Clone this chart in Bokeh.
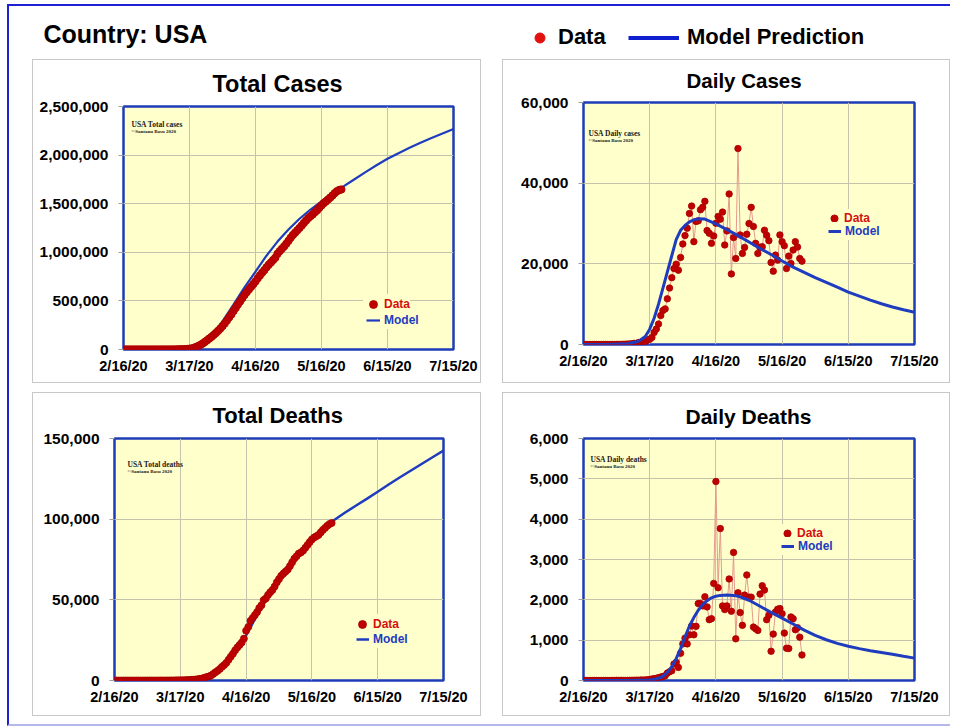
from bokeh.plotting import figure
from bokeh.models import (Range1d, FixedTicker, NumeralTickFormatter, Legend,
                          LegendItem, Label)
from bokeh.layouts import column, row
from bokeh.embed import file_html
from bokeh.resources import INLINE

# ---------------- data ----------------
# x axis: days after 2/16/20
x_tick_days = [0, 30, 60, 90, 120, 150]
x_tick_labels = ["2/16/20", "3/17/20", "4/16/20", "5/16/20", "6/15/20", "7/15/20"]
days = list(range(100))

daily_cases = [0, 0, 0, 0, 1, 0, 0, 0, 1, 0, 2, 0, 3, 5, 8, 20, 24, 30, 50, 70,
               100, 120, 190, 290, 270, 480, 550, 640, 760, 1100, 1300,
               1750, 3000, 3830, 5080, 7170, 8420, 8830, 11330, 14000, 16580,
               18830, 19920, 18420, 21580, 24920, 27000, 28830, 32500, 34330, 25500,
               30500, 30670, 33420, 34000, 35500, 28250, 27580, 25080, 26920, 30080,
               31750, 31080, 32830, 24670, 28170, 37330, 17500, 26500, 21330, 48580,
               27170, 22580, 24080, 27330, 30000, 34000, 29250, 25080, 22580, 24080,
               24250, 28330, 27080, 25750, 20330, 18170, 22170, 20920, 27170, 25500,
               24500, 18830, 21920, 20080, 23420, 25500, 24170, 21330, 20670]

total_cases = [15, 15, 15, 15, 16, 16, 16, 16, 17, 17, 19, 19, 22, 27, 35, 55, 79, 109,
               159, 229, 329, 449, 639, 929, 1199, 1679, 2229, 2869, 3629, 4729,
               8000, 11000, 18000, 26000, 36000, 48000, 62000, 78000, 95000, 113000,
               130000, 150000, 170000, 192000, 215000, 240000, 268000, 298000, 330000,
               360000, 395000, 428000, 462000, 495000, 528000, 560000, 590000, 618000,
               645000, 672000, 700000, 732000, 762000, 790000, 816000, 845000, 872000,
               896000, 920000, 944000, 985000, 1012000, 1036000, 1060000, 1088000,
               1118000, 1150000, 1178000, 1202000, 1226000, 1250000, 1275000, 1302000,
               1328000, 1352000, 1372000, 1390000, 1412000, 1432000, 1458000, 1482000,
               1505000, 1523000, 1544000, 1563000, 1585000, 1608000, 1628000, 1640000,
               1646000]

daily_deaths = [0, 0, 0, 0, 0, 0, 0, 0, 0, 0, 0, 0, 0,
                1, 1, 4, 1, 4, 1, 2, 3, 4, 4, 6, 8, 7, 11, 10, 12, 18, 23, 36, 45, 55,
                70, 85, 100,
                117, 183, 217, 242, 408, 450, 325, 675, 908, 1050,
                908, 1133, 1350, 1133, 1342, 1908, 1908, 1850, 2075, 1825,
                1508, 1533, 2408, 4933, 2300, 3767, 1850, 1758, 1850, 2517,
                1717, 3175, 1033, 2175, 1683, 1367, 2117, 2617, 2067, 2067,
                1325, 1283, 1242, 2142, 2350, 2242, 1508, 1617, 725, 1150,
                1700, 1767, 1783, 1658, 1175, 800, 792, 1575, 1533, 1258,
                1308, 1075, 633]

total_deaths = [0, 0, 0, 0, 0, 0, 0, 0, 0, 0, 0, 0, 0,
                1, 2, 6, 7, 11, 12, 14, 17, 21, 25, 31, 39, 46, 57, 67, 79, 97, 120,
                156, 201, 256, 326, 411, 511,
                628, 811, 1028, 1270, 1678, 2128, 2453, 3128, 4036, 5086,
                5994, 7127, 8477, 9610, 10952, 12860, 14768, 16618, 18693, 20518,
                22026, 23559, 25967, 30900, 33200, 36967, 38817, 40575, 42425, 44942,
                46659, 49834, 50867, 53042, 54725, 56092, 58209, 60826, 62893, 64960,
                66285, 67568, 68810, 70952, 73302, 75544, 77052, 78669, 79394, 80544,
                82244, 84011, 85794, 87452, 88627, 89427, 90219, 91794, 93327, 94585,
                95893, 96968, 97601]

model_tc_days = [0, 5, 10, 15, 20, 25, 30, 35, 40, 45, 50, 55, 60, 65, 70, 75, 80,
                 85, 90, 95, 100, 105, 110, 115, 120, 125, 130, 135, 140, 145, 150]
model_tc = [0, 0, 0, 0, 200, 1500, 6000, 35000, 140000, 290000, 462000, 640000,
            800000, 965000, 1110000, 1235000, 1345000, 1440000, 1525000, 1603000,
            1678000, 1752000, 1825000, 1895000, 1962000, 2020000, 2075000, 2127000,
            2176000, 2223000, 2268000]

model_dc_days = [0, 10, 20, 25, 28, 30, 32, 34, 36, 38, 40, 42, 44, 46, 48, 50, 52,
                 55, 60, 65, 70, 75, 80, 85, 90, 95, 100, 105, 110, 115, 120, 125,
                 130, 135, 140, 145, 150]
model_dc = [0, 0, 200, 800, 2000, 3800, 6500, 10000, 14000, 18000, 22000, 26000,
            28300, 29500, 30400, 30900, 31150, 31100, 29900, 28500, 27000, 25400,
            23800, 22300, 20700, 19200, 17900, 16600, 15400, 14200, 13000, 12000,
            11000, 10100, 9300, 8600, 8000]

model_td_days = [0, 30, 35, 40, 45, 50, 55, 60, 65, 70, 75, 80, 85, 90, 95, 100, 105,
                 110, 115, 120, 125, 130, 135, 140, 145, 150]
model_td = [0, 0, 150, 800, 3200, 8500, 17000, 28000, 40500, 52500, 63000, 72500,
            81000, 88000, 94000, 99300, 104000, 108300, 112600, 117000, 121500,
            125800, 130000, 134200, 138400, 142500]

model_dd_days = [0, 20, 30, 33, 36, 38, 40, 42, 44, 46, 48, 50, 52, 54, 56, 58, 60,
                 62, 65, 68, 70, 75, 80, 85, 90, 95, 100, 105, 110, 115, 120, 125,
                 130, 135, 140, 145, 150]
model_dd = [0, 0, 10, 40, 100, 200, 340, 540, 790, 1080, 1350, 1560, 1740, 1880, 1980,
            2050, 2090, 2110, 2120, 2110, 2090, 1990, 1840, 1690, 1545, 1400, 1250,
            1120, 1010, 920, 850, 790, 740, 695, 650, 600, 555]

tc_ticks = [0, 500000, 1000000, 1500000, 2000000, 2500000]
dc_ticks = [0, 20000, 40000, 60000]
td_ticks = [0, 50000, 100000, 150000]
dd_ticks = [0, 1000, 2000, 3000, 4000, 5000, 6000]

# ---------------- style ----------------
YELLOW = "#ffffcc"
FRAME_BLUE = "#1f3cb8"
MODEL_BLUE = "#1f3cbf"
DOT_RED = "#c00000"
LEG_RED = "#d41010"
GRID = "#c4c4ac"
SANS = "Liberation Sans"
SERIF = "Liberation Serif"


def make_panel(title, title_size, standoff, offset, fl, fw, fr, ft, fh, fb,
               y_max, y_ticks):
    p = figure(frame_width=fw, frame_height=fh,
               min_border_left=fl, min_border_right=fr,
               min_border_top=ft, min_border_bottom=fb,
               x_range=Range1d(0, 150), y_range=Range1d(0, y_max),
               output_backend="svg", toolbar_location=None, title=title)
    p.styles = {"border": "1px solid #c8c8c8"}
    p.background_fill_color = YELLOW
    p.border_fill_color = "white"
    p.outline_line_color = FRAME_BLUE
    p.outline_line_width = 2.5
    p.title.align = "left"
    p.title.offset = offset
    p.title.vertical_align = "top"
    p.title.text_font = SANS
    p.title.text_font_style = "bold"
    p.title.text_font_size = title_size
    p.title.text_color = "black"
    p.title.standoff = standoff
    p.xaxis.ticker = FixedTicker(ticks=x_tick_days)
    p.xaxis.major_label_overrides = dict(zip(x_tick_days, x_tick_labels))
    p.yaxis.ticker = FixedTicker(ticks=y_ticks)
    p.yaxis.formatter = NumeralTickFormatter(format="0,0")
    for ax in (p.xaxis, p.yaxis):
        ax.axis_line_color = None
        ax.minor_tick_line_color = None
        ax.major_label_text_font = SANS
        ax.major_label_text_font_style = "bold"
        ax.major_label_text_color = "black"
    p.xaxis.major_label_text_font_size = "14.5px"
    p.yaxis.major_label_text_font_size = "15.5px"
    p.xaxis.major_tick_line_color = None
    p.xaxis.major_tick_out = 0
    p.xaxis.major_label_standoff = 8
    p.yaxis.major_tick_line_color = "#a0a0a0"
    p.yaxis.major_tick_out = 5
    p.yaxis.major_tick_in = 0
    p.yaxis.major_label_standoff = 10
    p.grid.grid_line_color = GRID
    p.grid.grid_line_width = 1
    return p


def add_notes(p, text, x, y):
    p.add_layout(Label(x=x, y=y, x_units="screen", y_units="screen", text=text,
                       text_font=SERIF, text_font_style="bold", text_font_size="7.5px",
                       text_baseline="middle", text_color="#202020"))
    p.add_layout(Label(x=x, y=y - 6.5, x_units="screen", y_units="screen",
                       text="\u00a9Santanu  Basu 2020", text_font=SERIF,
                       text_font_style="bold", text_font_size="5px",
                       text_baseline="middle", text_color="#202020"))


def add_legends(p, r_data, r_model, dloc, mloc, dglyph, mwidth):
    common = dict(padding=0, margin=0, spacing=0, border_line_color=None,
                  background_fill_color=YELLOW, background_fill_alpha=1.0,
                  label_text_font=SANS, label_text_font_style="bold",
                  label_text_font_size="12px", label_height=18)
    l1 = Legend(items=[LegendItem(label="Data", renderers=[r_data])], location=dloc,
                glyph_width=dglyph, glyph_height=dglyph, label_standoff=1,
                label_text_color=LEG_RED, **common)
    l2 = Legend(items=[LegendItem(label="Model", renderers=[r_model])], location=mloc,
                glyph_width=mwidth, glyph_height=18, label_standoff=4,
                label_text_color=MODEL_BLUE, **common)
    p.add_layout(l1)
    p.add_layout(l2)


# ---- Total cases ----
p_tc = make_panel("Total Cases", "23.5px", 15, 89, 90, 328, 29, 46, 241, 35,
                  2500000, tc_ticks)
m_tc = p_tc.line(model_tc_days, model_tc, line_color=MODEL_BLUE, line_width=2.2)
d_tc = p_tc.scatter(days, total_cases, size=7.5, marker="circle",
                    fill_color=DOT_RED, line_color="#a80000", line_width=0.8)
add_notes(p_tc, "USA Total cases", 8, 225)
add_legends(p_tc, d_tc, m_tc, (240, 35), (243, 20), 20, 14)

# ---- Daily cases ----
p_dc = make_panel("Daily Cases", "20.5px", 16.5, 103, 80, 329, 37, 42, 240, 40,
                  60000, dc_ticks)
p_dc.line(days, daily_cases, line_color="#e49a8c", line_width=1)
d_dc = p_dc.scatter(days, daily_cases, size=6.5, marker="circle",
                    fill_color=DOT_RED, line_color="#a80000", line_width=0.8)
m_dc = p_dc.line(model_dc_days, model_dc, line_color=MODEL_BLUE, line_width=3)
add_notes(p_dc, "USA Daily cases", 5, 211)
add_legends(p_dc, d_dc, m_dc, (242, 117), (245, 104), 18, 13)

# ---- Total deaths ----
p_td = make_panel("Total Deaths", "22px", 18, 98, 81, 327, 39, 45, 240, 37,
                  150000, td_ticks)
m_td = p_td.line(model_td_days, model_td, line_color=MODEL_BLUE, line_width=2.5)
d_td = p_td.scatter(days, total_deaths, size=7, marker="circle",
                    fill_color=DOT_RED, line_color="#a80000", line_width=0.8)
add_notes(p_td, "USA Total deaths", 13, 216)
add_legends(p_td, d_td, m_td, (238, 46), (242, 32), 20, 13)

# ---- Daily deaths ----
p_dd = make_panel("Daily Deaths", "21px", 16.5, 102, 80, 329, 37, 45, 240, 37,
                  6000, dd_ticks)
p_dd.line(days, daily_deaths, line_color="#e49a8c", line_width=1)
d_dd = p_dd.scatter(days, daily_deaths, size=6.5, marker="circle",
                    fill_color=DOT_RED, line_color="#a80000", line_width=0.8)
m_dd = p_dd.line(model_dd_days, model_dd, line_color=MODEL_BLUE, line_width=3)
add_notes(p_dd, "USA Daily deaths", 7, 221)
add_legends(p_dd, d_dd, m_dd, (195, 138), (198, 125), 18, 13)

# ---- Header ----
header = figure(width=941, height=53, x_range=Range1d(0, 1), y_range=Range1d(0, 1),
                min_border=0, toolbar_location=None, output_backend="svg",
                x_axis_location=None, y_axis_location=None)
header.grid.visible = False
header.outline_line_color = None
header.background_fill_color = "white"
header.border_fill_color = "white"
# off-canvas renderers only feed the legend glyphs
hd = header.scatter(x=[-5], y=[-5], marker="circle", size=10, fill_color="#e31010",
                    line_color="#e31010")
hm = header.line(x=[-5, -4], y=[-5, -5], line_color="#0f1fcf", line_width=4)
header.add_layout(Label(x=34, y=26, x_units="screen", y_units="screen",
                        text="Country: USA", text_font=SANS, text_font_style="bold",
                        text_font_size="25px", text_baseline="middle",
                        text_color="black"))
hcommon = dict(padding=0, margin=0, spacing=0, border_line_color=None,
               background_fill_alpha=0.0, label_text_font=SANS,
               label_text_font_style="bold", label_text_font_size="22px",
               label_text_color="black", label_height=25, glyph_height=25)
header.add_layout(Legend(items=[LegendItem(label="Data", renderers=[hd])],
                         location=(518, 9), glyph_width=25, label_standoff=6,
                         **hcommon))
header.add_layout(Legend(items=[LegendItem(label="Model Prediction", renderers=[hm])],
                         location=(619, 9), glyph_width=51, label_standoff=8,
                         **hcommon))

# each panel in its own column so that the row does not align their frames
row1 = row(column(p_tc), column(p_dc), spacing=21, margin=(0, 0, 0, 23))
row2 = row(column(p_td), column(p_dd), spacing=21, margin=(9, 0, 0, 23))
root = column(header, row1, row2, margin=(4, 0, 0, 7),
              styles={"border-left": "2px solid #1f1fd6",
                      "border-top": "2px solid #1f1fd6",
                      "border-bottom": "2px solid #b4b8ec",
                      "padding-bottom": "8px"})

open("out.html", "w").write(file_html(root, INLINE))
